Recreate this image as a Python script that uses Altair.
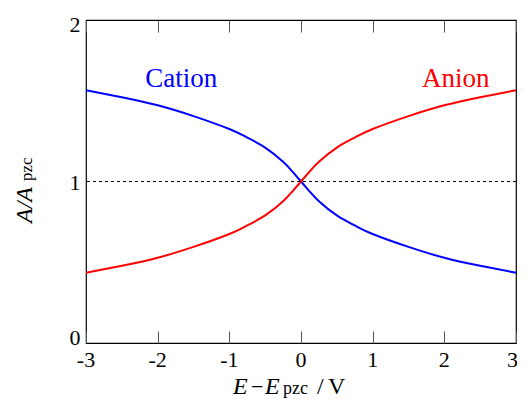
import altair as alt
import pandas as pd

# ---- data ----
E = [-3, -2.5, -2, -1.5, -1, -0.75, -0.5, -0.25, -0.125, 0,
     0.125, 0.25, 0.5, 0.75, 1, 1.5, 2, 2.5, 3]
cation = [1.565, 1.522, 1.472, 1.405, 1.325, 1.272, 1.21, 1.122, 1.064, 1.0,
          0.936, 0.878, 0.79, 0.728, 0.675, 0.595, 0.528, 0.478, 0.435]
anion = [0.435, 0.478, 0.528, 0.595, 0.675, 0.728, 0.79, 0.878, 0.936, 1.0,
         1.064, 1.122, 1.21, 1.272, 1.325, 1.405, 1.472, 1.522, 1.565]
series_names = ["Cation", "Anion"]
series_colors = ["#0000ff", "#ff0000"]
label_x = [-1.67, 2.16]
label_y = [1.585, 1.585]
x_ticks = [-3, -2, -1, 0, 1, 2, 3]
x_tick_labels = ["-3", "-2", "-1", "0", "1", "2", "3"]
y_ticks = [0, 1, 2]
y_tick_labels = ["0", "1", "2"]
ref_level = [1.0]

FONT = "Liberation Serif, Times New Roman, Times, serif"

df = pd.DataFrame({
    "E": E + E,
    "A": cation + anion,
    "ion": ["Cation"] * len(E) + ["Anion"] * len(E),
})
labels_df = pd.DataFrame({"label": series_names, "x": label_x, "y": label_y})
ref_df = pd.DataFrame({"y": ref_level})
xlab_df = pd.DataFrame({"v": x_ticks, "t": x_tick_labels})
ylab_df = pd.DataFrame({"v": y_ticks, "t": y_tick_labels})

xscale = alt.Scale(domain=[-3, 3], nice=False, zero=False)
yscale = alt.Scale(domain=[0, 2], nice=False, zero=False)
cscale = alt.Scale(domain=series_names, range=series_colors)

bottom_axis = alt.Axis(
    orient="bottom", values=x_ticks, offset=-12, domain=False, grid=False,
    ticks=True, tickSize=12, tickColor="#555555", tickWidth=1,
    labels=False, title=None,
)
top_axis = alt.Axis(
    orient="top", values=x_ticks, offset=-12, domain=False, grid=False,
    ticks=True, tickSize=12, tickColor="#555555", tickWidth=1,
    labels=False, title=None,
)

lines = alt.Chart(df).mark_line(strokeWidth=2, interpolate="natural").encode(
    x=alt.X("E:Q", scale=xscale, axis=bottom_axis),
    y=alt.Y("A:Q", scale=yscale, axis=None),
    color=alt.Color("ion:N", scale=cscale, legend=None),
    detail="ion:N",
)

ref = alt.Chart(ref_df).mark_rule(color="black", strokeWidth=1, strokeDash=[3, 3]).encode(
    y=alt.Y("y:Q", scale=yscale, axis=None),
)

labels = alt.Chart(labels_df).mark_text(
    font=FONT, fontSize=27, align="center", baseline="alphabetic"
).encode(
    x=alt.X("x:Q", scale=xscale, axis=top_axis),
    y=alt.Y("y:Q", scale=yscale, axis=None),
    text="label:N",
    color=alt.Color("label:N", scale=cscale, legend=None),
)

# tick labels (text layers so the end labels can sit like the reference)
def xlab(filt, align, dx):
    return alt.Chart(xlab_df).transform_filter(filt).mark_text(
        font=FONT, fontSize=22, align=align, baseline="alphabetic", color="black", dx=dx
    ).encode(
        x=alt.X("v:Q", scale=xscale, axis=None),
        y=alt.value(347),
        text="t:N",
    )

def ylab(filt, dy):
    return alt.Chart(ylab_df).transform_filter(filt).mark_text(
        font=FONT, fontSize=22, align="right", baseline="alphabetic", color="black", dy=dy
    ).encode(
        x=alt.value(-5.5),
        y=alt.Y("v:Q", scale=yscale, axis=None),
        text="t:N",
    )

tick_text = [
    xlab(alt.datum.v < 3, "center", 0),
    xlab(alt.datum.v == 3, "right", 2),
    ylab(alt.datum.v == 0, 2),
    ylab(alt.datum.v == 1, 8),
    ylab(alt.datum.v == 2, 12),
]

def txt(s, x, y, size, italic=False, angle=0):
    kw = dict(text=s, font=FONT, fontSize=size, align="left", baseline="alphabetic", color="black")
    if italic:
        kw["fontStyle"] = "italic"
    if angle:
        kw["angle"] = angle
    return alt.Chart(ref_df).mark_text(**kw).encode(x=alt.value(x), y=alt.value(y))

# x-axis title: E − E_pzc / V
xt = [
    txt("E", 147, 374, 24, italic=True),
    txt("\u2212", 165, 374, 22),
    txt("E", 179, 374, 24, italic=True),
    txt("pzc", 197, 374, 18),
    txt("/", 231, 374, 24),
    txt("V", 242, 374, 24),
]
# y-axis title: A / A_pzc (rotated)
yt = [
    txt("A/A", -54, 203, 24, italic=True, angle=270),
    txt("pzc", -54, 161, 17, angle=270),
]

chart = alt.layer(lines, ref, labels, *tick_text, *xt, *yt).resolve_axis(
    x="independent"
).properties(
    width=430, height=323,
    autosize=alt.AutoSizeParams(type="none"),
    padding={"left": 78, "top": 12, "right": 1, "bottom": 57},
).configure(
    font=FONT
).configure_view(
    stroke="black", strokeWidth=1.2
)

chart.save("out.html", embed_options={"renderer": "svg", "actions": False})
